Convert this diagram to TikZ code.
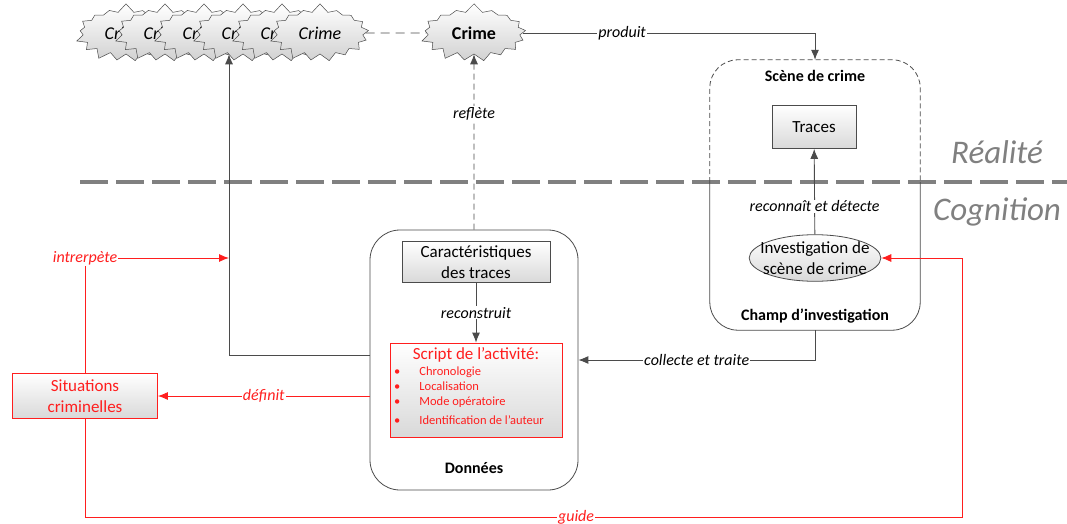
\documentclass[tikz,border=0pt]{standalone}
\usepackage{fontspec}
\setmainfont{Carlito}
\usetikzlibrary{shapes.symbols,shapes.geometric,arrows.meta}

\definecolor{trait}{RGB}{75,75,75}
\definecolor{rouge}{RGB}{255,30,30}
\definecolor{gris}{RGB}{128,128,128}

\begin{document}
\begin{tikzpicture}
	[x=1pt,y=-1pt,>={Latex[length=10pt,width=8pt]},
	burst/.style={shape=starburst,starburst points=17,starburst point height=9pt,
			random starburst=7,draw=trait,line width=0.5pt,top color=white,
			bottom color=black!18,minimum width=104pt,minimum height=60pt,inner sep=0pt,
			font=\fontsize{18}{20}\selectfont\itshape},
	boite/.style={shape=rectangle,draw=trait,line width=0.8pt,top color=white,
			bottom color=black!15,inner sep=2pt,align=center,
			font=\fontsize{17}{21}\selectfont},
	boiterouge/.style={boite,draw=rouge,text=rouge},
	lien/.style={->,draw=trait,line width=0.9pt},
	lienrouge/.style={->,draw=rouge,line width=0.9pt},
	etiq/.style={fill=white,inner sep=1pt,font=\fontsize{16}{18}\selectfont\itshape},
	titre/.style={font=\fontsize{16}{18}\selectfont\bfseries}]

	\useasboundingbox (0,0) rectangle (1067,524);

	% realite / cognition
	\coordinate (sol0) at (80,182);
	\coordinate (sol1) at (1067,182);
	\draw[gris,line width=3.5pt,dash pattern=on 28pt off 8pt] (sol0) -- (sol1);
	\node[text=gris,font=\fontsize{33}{36}\selectfont\itshape] (realite) at (997,152) {Réalité};
	\node[text=gris,font=\fontsize{33}{36}\selectfont\itshape] (cognition) at (997,212) {Cognition};

	% crimes
	\foreach \i/\x in {1/126,2/165,3/204,4/243,5/282,6/320}
	{
		\node[burst] (cr\i) at (\x,33) {Crime};
	}
	\node[burst,minimum width=110pt,minimum height=60pt,
		font=\fontsize{18}{20}\selectfont\bfseries] (crime) at (474,33) {Crime};
	\draw[trait,line width=0.9pt,dash pattern=on 9pt off 6pt] (cr6.east) -- (crime.west);

	% champ d'investigation
	\node[minimum width=210pt,minimum height=270pt] (champ) at (815,195) {};
	\draw[trait,line width=0.8pt,dash pattern=on 5pt off 3pt,rounded corners=28pt]
		(champ.west |- sol0) |- (champ.north) -| (champ.east |- sol0);
	\draw[trait,line width=0.8pt,rounded corners=28pt]
		(champ.west |- sol0) |- (champ.south) -| (champ.east |- sol0);
	\node[titre] (scene) at (815,76) {Scène de crime};
	\node[titre] (champtitre) at (815,316) {Champ d’investigation};
	\node[boite,minimum width=84pt,minimum height=43pt] (traces) at (814,127) {Traces};
	\node[boite,shape=ellipse,inner xsep=-8pt,inner ysep=0pt] (isc) at (815,258)
		{Investigation de\\scène de crime};

	% donnees
	\node[draw=trait,line width=0.8pt,rounded corners=30pt,minimum width=208pt,
		minimum height=260pt] (donnees) at (474,360) {};
	\node[titre] (donneestitre) at (474,468) {Données};
	\node[boite,minimum width=148pt,minimum height=41pt] (carac) at (476,262)
		{Caractéristiques\\des traces};
	\node[boiterouge,minimum width=172pt,minimum height=94pt] (script) at (476,390) {};
	\node[text=rouge,font=\fontsize{17}{20}\selectfont] (scripttitre) at (476,355)
		{Script de l’activité:};
	\node[text=rouge,font=\fontsize{12.5}{15}\selectfont,align=left,anchor=north west,
		inner sep=0pt] (scriptliste) at (394,367)
		{\textbullet\hspace{19pt}Chronologie\\
		\textbullet\hspace{19pt}Localisation\\
		\textbullet\hspace{19pt}Mode opératoire\\[4pt]
		\textbullet\hspace{19pt}Identification de l’auteur};

	\node[boiterouge,minimum width=145pt,minimum height=45pt] (situations) at (85,396)
		{Situations\\criminelles};
	\coordinate (interp) at (229,258);
	\coordinate (g1) at (962,517);

	% liens
	\draw[lien] (crime.east) -| node[etiq,pos=0.17] {produit} (champ.north);
	\draw[lien,dash pattern=on 6pt off 4pt] (donnees.north) -- node[etiq,pos=0.66] {reflète} (crime.south);
	\draw[lien] (isc) -- node[etiq,pos=0.33] {reconnaît et détecte} (traces);
	\draw[lien] (carac) -- node[etiq] {reconstruit} (script);
	\draw[lien] (champ.south) |- node[etiq,pos=0.75] {collecte et traite} (donnees.east);
	\draw[lien] ([yshift=5pt]donnees.west) -| (cr4.south -| interp);
	\draw[lienrouge] (situations.north) |- node[etiq,text=rouge] {intrerpète} (interp);
	\draw[lienrouge] ([yshift=-36pt]donnees.west) -- node[etiq,text=rouge] {définit} (situations.east);
	\draw[lienrouge] (situations.south) |- node[etiq,text=rouge,pos=0.78] {guide} (g1) |- (isc.east);
\end{tikzpicture}
\end{document}
